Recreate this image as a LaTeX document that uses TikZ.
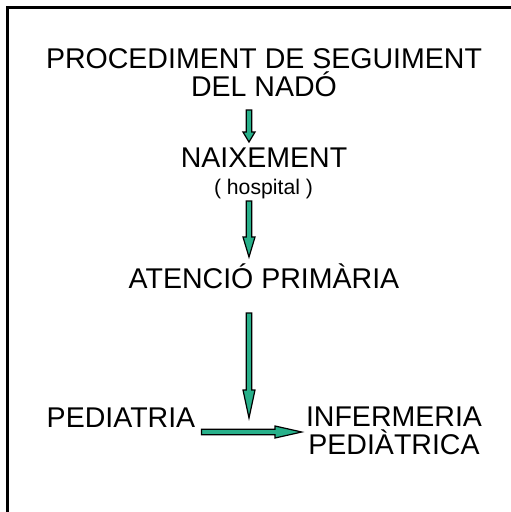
\documentclass[tikz,border=0pt]{standalone}
\usepackage{fontspec}
\setmainfont{Liberation Sans}
\usetikzlibrary{calc,positioning}
\definecolor{arrowgreen}{RGB}{40,176,138}
\tikzset{
  label/.style={inner sep=0pt, font=\fontsize{21.4}{21}\selectfont, align=center},
  small/.style={inner sep=0pt, font=\fontsize{15.9}{18}\selectfont},
  frame/.style={draw=black, line width=1.6pt},
  flow/.style={draw=black, line width=0.9pt, fill=arrowgreen, line join=miter,
    to path={let \p1=($(\tikztotarget)-(\tikztostart)$),
      \n1={atan2(\y1,\x1)}, \n2={veclen(\x1,\y1)} in
      ([shift={(\tikztostart)},rotate=\n1]0pt,2pt)
      -- ([shift={(\tikztostart)},rotate=\n1]\n2-#1,2pt)
      -- ([shift={(\tikztostart)},rotate=\n1]\n2-#1,4.5pt)
      -- (\tikztotarget)
      -- ([shift={(\tikztostart)},rotate=\n1]\n2-#1,-4.5pt)
      -- ([shift={(\tikztostart)},rotate=\n1]\n2-#1,-2pt)
      -- ([shift={(\tikztostart)},rotate=\n1]0pt,-2pt) -- cycle}},
}
\begin{document}
\begin{tikzpicture}[x=0.75pt, y=-0.75pt]
   \useasboundingbox (0,0) rectangle (511,512);
   \clip (0,0) rectangle (511,512);
   \draw[frame] (7.5,7.5) rectangle (540,540);
   \coordinate (spine) at (249,0);
   \node[label, anchor=south] (title)      at (264,97)  {PROCEDIMENT DE SEGUIMENT\\DEL NADÓ};
   \node[label, anchor=base]  (birth)      at (264,167) {NAIXEMENT};
   \node[small, anchor=base]  (hosp)       at (263.5,194) {( hospital )};
   \node[label, anchor=base]  (primary)    at (264,288) {ATENCIÓ PRIMÀRIA};
   \node[label, anchor=base]  (pediatrics) at (121,427) {PEDIATRIA};
   \node[label, anchor=south] (nursing)    at (394,455) {INFERMERIA\\PEDIÀTRICA};
   \path[flow=7.5pt] ($(spine |- title.south)+(0,13)$) to ($(spine |- birth.base)+(0,-25)$);
   \path[flow=15pt]  ($(spine |- hosp.base)+(0,7)$) to ($(spine |- primary.base)+(0,-31)$);
   \path[flow=21pt]  ($(spine |- primary.base)+(0,25)$) to ($(spine |- pediatrics.base)+(0,-9)$);
   \path[flow=20pt]  ($(pediatrics.base east)+(6,5)$) to ($(nursing.west |- pediatrics.base)+(-4,5)$);
\end{tikzpicture}
\end{document}
